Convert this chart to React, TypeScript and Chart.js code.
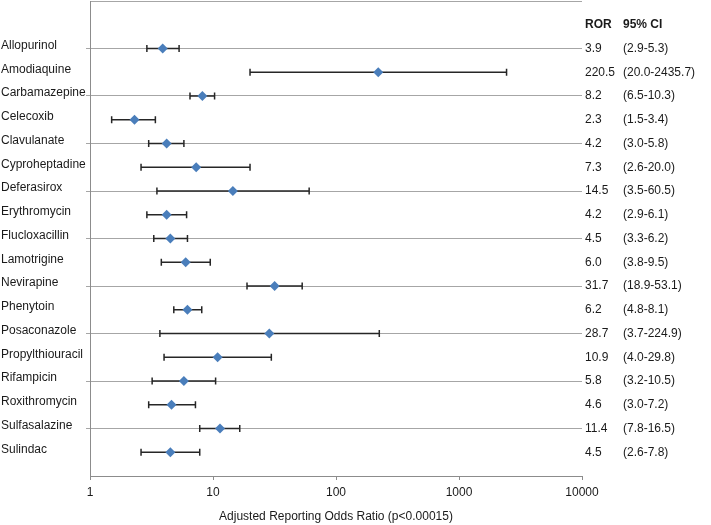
import React, { useEffect, useRef } from "react";
import { Chart, registerables } from "chart.js";

Chart.register(...registerables);

const drugs = [
  "Allopurinol", "Amodiaquine", "Carbamazepine", "Celecoxib", "Clavulanate",
  "Cyproheptadine", "Deferasirox", "Erythromycin", "Flucloxacillin", "Lamotrigine",
  "Nevirapine", "Phenytoin", "Posaconazole", "Propylthiouracil", "Rifampicin",
  "Roxithromycin", "Sulfasalazine", "Sulindac",
];
const ror = [3.9, 220.5, 8.2, 2.3, 4.2, 7.3, 14.5, 4.2, 4.5, 6.0, 31.7, 6.2, 28.7, 10.9, 5.8, 4.6, 11.4, 4.5];
const ciLow = [2.9, 20.0, 6.5, 1.5, 3.0, 2.6, 3.5, 2.9, 3.3, 3.8, 18.9, 4.8, 3.7, 4.0, 3.2, 3.0, 7.8, 2.6];
const ciHigh = [5.3, 2435.7, 10.3, 3.4, 5.8, 20.0, 60.5, 6.1, 6.2, 9.5, 53.1, 8.1, 224.9, 29.8, 10.5, 7.2, 16.5, 7.8];
const xTickValues = [1, 10, 100, 1000, 10000];
const headerRor = "ROR";
const headerCi = "95% CI";
const xTitle = "Adjusted Reporting Odds Ratio (p<0.00015)";

const FONT = "'Liberation Sans', Arial, sans-serif";
const TEXT = "#1a1a1a";
const GRID = "#a6a6a6";
const AXIS = "#8c8c8c";

const rowValue = (i: number) => drugs.length - i; // 18..1
const TOP = drugs.length + 2; // 20

export default function App() {
  const ref = useRef<HTMLCanvasElement | null>(null);

  useEffect(() => {
    if (!ref.current) return;

    const errorBars = {
      id: "errorBars",
      beforeDatasetsDraw(chart: any) {
        const { ctx, scales } = chart;
        const x = scales.x, y = scales.y;
        ctx.save();
        ctx.strokeStyle = "#262626";
        ctx.lineWidth = 1.5;
        for (let i = 0; i < drugs.length; i++) {
          const py = y.getPixelForValue(rowValue(i));
          const x1 = x.getPixelForValue(ciLow[i]);
          const x2 = x.getPixelForValue(ciHigh[i]);
          ctx.beginPath();
          ctx.moveTo(x1, py);
          ctx.lineTo(x2, py);
          ctx.moveTo(x1, py - 3.5);
          ctx.lineTo(x1, py + 3.5);
          ctx.moveTo(x2, py - 3.5);
          ctx.lineTo(x2, py + 3.5);
          ctx.stroke();
        }
        ctx.restore();
      },
    };

    const textPlugin = {
      id: "textPlugin",
      afterDraw(chart: any) {
        const { ctx, scales } = chart;
        const y = scales.y;
        const xR = chart.chartArea.right + 3;
        const xC = chart.chartArea.right + 41;
        ctx.save();
        ctx.fillStyle = TEXT;
        ctx.textBaseline = "middle";
        ctx.textAlign = "left";
        ctx.font = `bold 12px ${FONT}`;
        const hy = y.getPixelForValue(drugs.length + 1);
        ctx.fillText(headerRor, xR, hy);
        ctx.fillText(headerCi, xC, hy);
        ctx.font = `12px ${FONT}`;
        for (let i = 0; i < drugs.length; i++) {
          const py = y.getPixelForValue(rowValue(i));
          ctx.fillText(drugs[i], 1, py - 3);
          ctx.fillText(ror[i].toFixed(1), xR, py);
          ctx.fillText(`(${ciLow[i].toFixed(1)}-${ciHigh[i].toFixed(1)})`, xC, py);
        }
        ctx.restore();
      },
    };

    const chart = new Chart(ref.current, {
      type: "scatter",
      data: {
        datasets: [
          {
            data: ror.map((v, i) => ({ x: v, y: rowValue(i) })),
            pointStyle: "rectRot",
            pointRadius: 5,
            pointHoverRadius: 5,
            backgroundColor: "#4a7ebb",
            borderColor: "#4a7ebb",
            borderWidth: 0,
          },
        ],
      },
      options: {
        animation: false,
        responsive: false,
        maintainAspectRatio: false,
        layout: { autoPadding: false, padding: { top: 1, right: 129, bottom: 0, left: 1 } },
        plugins: {
          legend: { display: false },
          tooltip: { enabled: false },
        },
        scales: {
          x: {
            type: "logarithmic",
            min: 1,
            max: 10000,
            afterBuildTicks: (scale: any) => {
              scale.ticks = xTickValues.map((v) => ({ value: v }));
            },
            afterFit: (scale: any) => {
              scale.height = 49;
            },
            border: { display: true, color: AXIS, width: 1 },
            grid: {
              drawOnChartArea: false,
              drawTicks: true,
              tickLength: 4,
              tickColor: AXIS,
            },
            ticks: {
              autoSkip: false,
              maxRotation: 0,
              padding: 5,
              color: TEXT,
              font: { family: FONT, size: 12 },
              callback: (v: any) => String(v),
            },
            title: {
              display: true,
              text: xTitle,
              color: TEXT,
              font: { family: FONT, size: 12 },
              padding: { top: 0, bottom: 1 },
            },
          },
          y: {
            type: "linear",
            min: 0,
            max: TOP,
            afterBuildTicks: (scale: any) => {
              const t = [];
              for (let v = 0; v <= TOP; v++) t.push({ value: v });
              scale.ticks = t;
            },
            afterFit: (scale: any) => {
              scale.width = 89;
            },
            border: { display: true, color: AXIS, width: 1 },
            grid: {
              drawTicks: true,
              tickLength: 4,
              color: (c: any) => {
                const v = c.tick ? c.tick.value : 0;
                return v > 0 && v % 2 === 0 ? GRID : "rgba(0,0,0,0)";
              },
              tickColor: (c: any) => {
                const v = c.tick ? c.tick.value : 0;
                return v > 0 && v < TOP && v % 2 === 0 ? GRID : "rgba(0,0,0,0)";
              },
            },
            ticks: { display: false, autoSkip: false },
          },
        },
      },
      plugins: [errorBars, textPlugin],
    } as any);

    return () => chart.destroy();
  }, []);

  return (
    <div style={{ position: "fixed", left: 0, top: 0, width: 711, height: 525, background: "#fff" }}>
      <canvas ref={ref} width={711} height={525} />
    </div>
  );
}
